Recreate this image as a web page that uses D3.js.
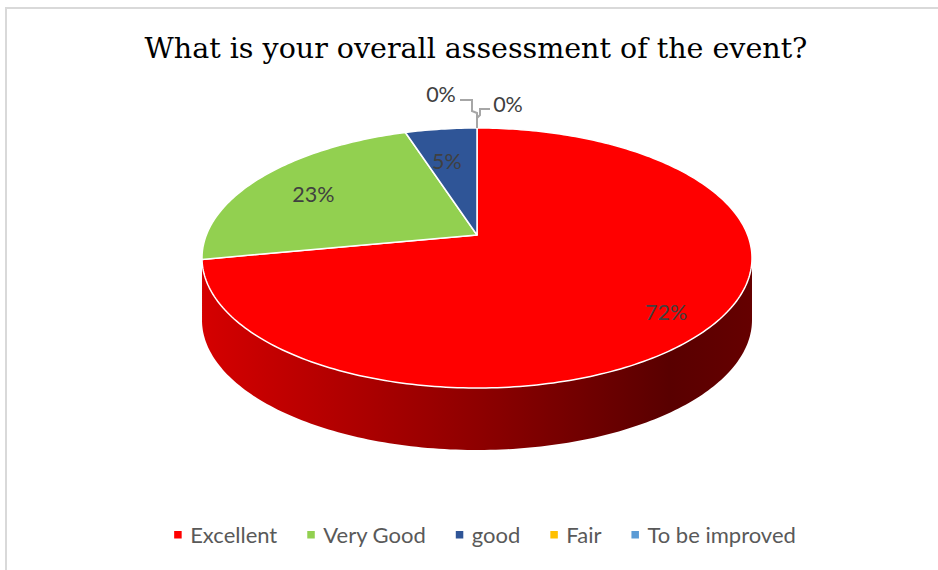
<!DOCTYPE html>
<html>
<head>
<meta charset="utf-8">
<script src="https://cdn.jsdelivr.net/npm/d3@7"></script>
<style>
  body { margin: 0; background: #fff; }
  svg { display: block; }
</style>
</head>
<body>
<div id="chart"></div>
<script>
// survey answers, in percent
var categories = ["Excellent", "Very Good", "good", "Fair", "To be improved"];
var values = [72, 23, 5, 0, 0];
var palette = ["#ff0000", "#92d050", "#2f5597", "#ffc000", "#5b9bd5"];

var width = 938,
    height = 570;

// top face of the 3d pie: apex, far edge, near edge, half width
var cx = 477,
    apexY = 235,
    farY = 128,
    nearY = 388,
    rx = 275,
    depth = 62;

// simple perspective: disc point (u, v) -> screen
var C = (2 * apexY - farY - nearY) / (nearY - farY);
var A = nearY * (C + 1) - apexY;
var ax = rx * Math.sqrt(1 - C * C);

function proj(angle, f) {
    var u = f * Math.sin(angle),
        v = -f * Math.cos(angle);
    var den = 1 + C * v;
    return [cx + ax * u / den, (A * v + apexY) / den];
}

function arcPoints(a0, a1) {
    var n = Math.max(2, Math.ceil((a1 - a0) / (Math.PI / 180)));
    var pts = [];
    for (var i = 0; i <= n; i++) pts.push(proj(a0 + (a1 - a0) * i / n, 1));
    return pts;
}

var color = d3.scaleOrdinal().domain(categories).range(palette);
var total = d3.sum(values);
var pct = d3.format(".0%");

var data = categories.map(function(c, i) { return {key: c, value: values[i]}; });
var arcs = d3.pie().sort(null).value(function(d) { return d.value; })(data);

var svg = d3.select("#chart")
  .append("svg")
    .attr("width", width)
    .attr("height", height);

// frame
svg.append("path")
    .attr("d", "M6," + height + "V8H" + width)
    .attr("fill", "none")
    .attr("stroke", "#d9d9d9")
    .attr("stroke-width", 2);

svg.append("text")
    .attr("x", 476)
    .attr("y", 58)
    .attr("text-anchor", "middle")
    .style("font-family", "'DejaVu Serif'")
    .style("font-size", "28.5px")
    .attr("fill", "#000")
    .text("What is your overall assessment of the event?");

var defs = svg.append("defs");
arcs.forEach(function(d, i) {
    var c = d3.color(color(d.data.key));
    var g = defs.append("linearGradient")
        .attr("id", "side" + i)
        .attr("gradientUnits", "userSpaceOnUse")
        .attr("x1", cx - rx).attr("x2", cx + rx)
        .attr("y1", 0).attr("y2", 0);
    [[0, 0.5], [0.5, 1.65], [0.85, 2.95], [1, 2.6]].forEach(function(s) {
        g.append("stop").attr("offset", s[0]).attr("stop-color", c.darker(s[1]).formatHex());
    });
});

// visible rim of the pie, front half only
var frontStart = Math.acos(C),
    frontEnd = 2 * Math.PI - frontStart;
var line = d3.line();

arcs.forEach(function(d, i) {
    var s = Math.max(d.startAngle, frontStart),
        e = Math.min(d.endAngle, frontEnd);
    if (s >= e) return;
    var top = arcPoints(s, e);
    var bottom = top.map(function(p) { return [p[0], p[1] + depth]; }).reverse();
    svg.append("path")
        .attr("d", line(top.concat(bottom)) + "Z")
        .attr("fill", "url(#side" + i + ")");
});

// top face
arcs.forEach(function(d) {
    if (d.endAngle - d.startAngle <= 0) return;
    var pts = [[cx, apexY]].concat(arcPoints(d.startAngle, d.endAngle));
    svg.append("path")
        .attr("d", line(pts) + "Z")
        .attr("fill", color(d.data.key))
        .attr("stroke", "#fff")
        .attr("stroke-width", 1.5)
        .attr("stroke-linejoin", "round");
});

// labels
var labelFont = "Lato";
var zeroCount = 0;
arcs.forEach(function(d) {
    var share = d.data.value / total;
    if (share > 0) {
        var mid = (d.startAngle + d.endAngle) / 2;
        var p = proj(mid, 0.68 + 0.22 * share);
        svg.append("text")
            .attr("x", p[0] - 4).attr("y", p[1] + 3)
            .attr("dy", "0.35em")
            .attr("text-anchor", "middle")
            .style("font-family", labelFont)
            .style("font-size", "21.5px")
            .attr("fill", "#404040")
            .text(pct(share));
    } else {
        // zero slices get a callout above the pie
        var anchor = proj(d.startAngle, 1);
        var left = zeroCount % 2 == 0;
        zeroCount++;
        var leg = left
            ? [[-17, -28], [-5, -28], [-5, -17], [0, -15], [0, 0]]
            : [[13, -19], [3, -19], [3, -13], [0, -10], [0, 0]];
        svg.append("path")
            .attr("d", line(leg.map(function(q) { return [anchor[0] + q[0], anchor[1] + q[1]]; })))
            .attr("fill", "none")
            .attr("stroke", "#a6a6a6")
            .attr("stroke-width", 2);
        svg.append("text")
            .attr("x", anchor[0] + (left ? -36 : 31))
            .attr("y", anchor[1] + (left ? -34 : -24))
            .attr("dy", "0.35em")
            .attr("text-anchor", "middle")
            .style("font-family", labelFont)
            .style("font-size", "21.5px")
            .attr("fill", "#404040")
            .text(pct(share));
    }
});

// legend
var legend = svg.append("g");
var lx = 0;
categories.forEach(function(c) {
    var item = legend.append("g").attr("transform", "translate(" + lx + ",0)");
    item.append("rect")
        .attr("x", 0).attr("y", -4)
        .attr("width", 7.5).attr("height", 7.5)
        .attr("fill", color(c));
    var t = item.append("text")
        .attr("x", 16)
        .attr("dy", "0.35em")
        .style("font-family", labelFont)
        .style("font-size", "22px")
        .attr("fill", "#595959")
        .text(c);
    lx += 16 + t.node().getComputedTextLength() + 30;
});
lx -= 30;
legend.attr("transform", "translate(" + (485 - lx / 2) + ",535)");
</script>
</body>
</html>
